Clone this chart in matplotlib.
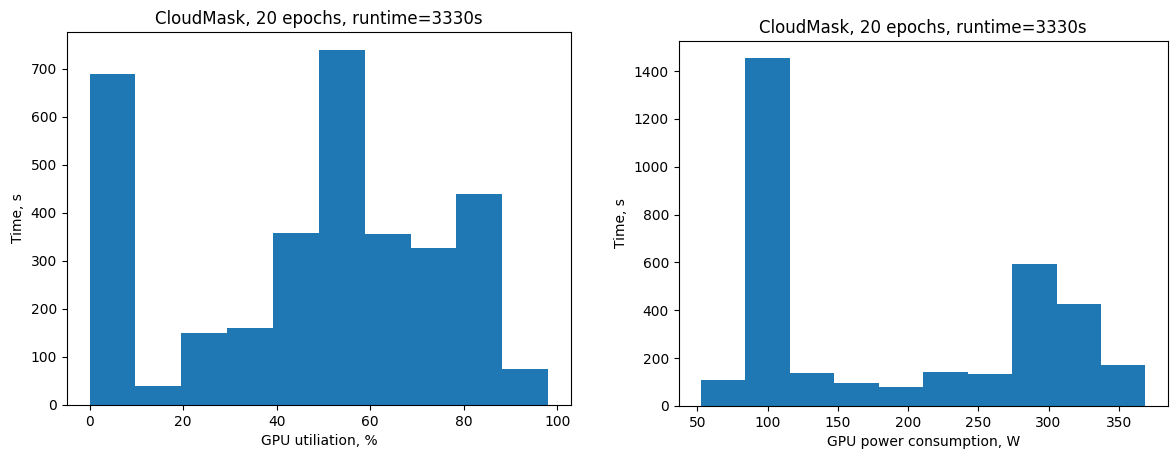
import numpy as np
import matplotlib
matplotlib.use("Agg")
import matplotlib.pyplot as plt

# time spent (s) in each bin of GPU utilisation, %
util_range = (0.0, 98.0)
util_time = [690, 40, 151, 160, 358, 740, 356, 326, 440, 74]

# time spent (s) in each bin of GPU power draw, W
power_range = (52.5, 369.0)
power_time = [108, 1453, 139, 97, 80, 142, 133, 592, 426, 169]

title = "CloudMask, 20 epochs, runtime=3330s"


def time_hist(ax, value_range, times, xlabel):
    edges = np.linspace(value_range[0], value_range[1], len(times) + 1)
    ax.stairs(times, edges, fill=True, color="#1f77b4")
    ax.set_xlim(edges[0] - 0.05 * (edges[-1] - edges[0]),
                edges[-1] + 0.05 * (edges[-1] - edges[0]))
    ax.set_ylim(0, max(times) * 1.05)
    ax.set_title(title, fontsize=12)
    ax.set_xlabel(xlabel)
    ax.set_ylabel("Time, s")


fig = plt.figure(figsize=(11.7, 4.5), dpi=100)
ax1 = fig.add_axes([0.057, 0.100, 0.431, 0.829])
ax2 = fig.add_axes([0.580, 0.098, 0.418, 0.811])

time_hist(ax1, util_range, util_time, "GPU utiliation, %")
ax1.set_xticks([0, 20, 40, 60, 80, 100])

time_hist(ax2, power_range, power_time, "GPU power consumption, W")
ax2.set_xticks([50, 100, 150, 200, 250, 300, 350])

fig.savefig("out.png", dpi=100)
